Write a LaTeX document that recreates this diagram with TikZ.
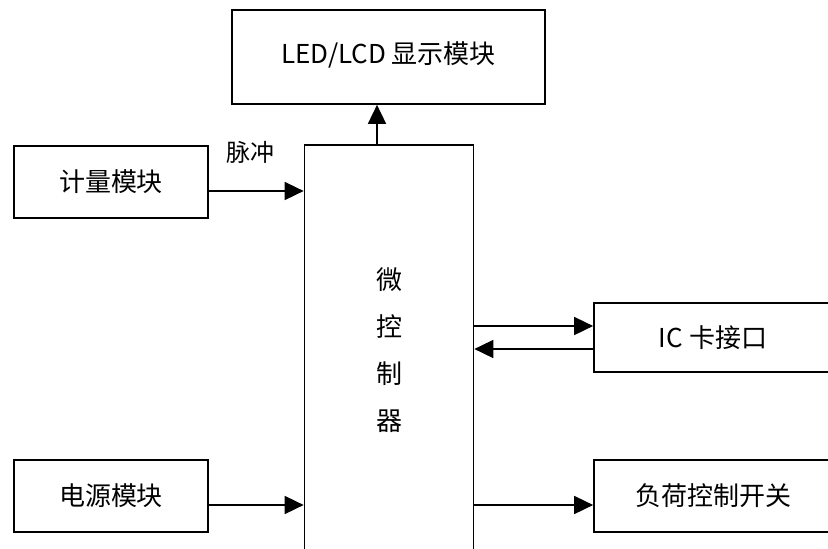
\documentclass[tikz,border=0pt]{standalone}
\usepackage{fontspec}
\newfontfamily\cjk{Noto Sans CJK SC}
\usetikzlibrary{arrows.meta}
\begin{document}
\begin{tikzpicture}[x=1pt,y=-1pt,
  box/.style={draw,line width=1.7pt,inner sep=0pt,font=\cjk\fontsize{26}{31}\selectfont},
  arr/.style={line width=1.7pt,-{Triangle[length=19pt,width=18pt]}}]
\useasboundingbox (0,0) rectangle (828,549);
\clip (0,0) rectangle (828,549);
\fill[white] (0,0) rectangle (828,549);
\node[box,minimum width=313pt,minimum height=94pt] (led) at (388.5,57) {\raisebox{9pt}{LED/LCD 显示模块}};
\node[box,minimum width=194pt,minimum height=72pt] (meter) at (111,182) {计量模块};
\node[box,minimum width=169pt,minimum height=410pt,align=center,font=\cjk\fontsize{26}{47}\selectfont] (mcu) at (389,350) {微\\控\\制\\器};
\node[box,minimum width=238pt,minimum height=69pt] (ic) at (713,337.5) {IC 卡接口};
\node[box,minimum width=194pt,minimum height=72pt] (power) at (111,496) {电源模块};
\node[box,minimum width=238pt,minimum height=72pt] (load) at (713,496) {负荷控制开关};
\node[font=\cjk\fontsize{24}{28}\selectfont,inner sep=0pt] (pulse) at (250,152) {脉冲};
\draw[arr] ([xshift=-12pt]mcu.north) -- ([xshift=-12pt]mcu.north |- led.south);
\draw[arr] ([yshift=-9pt]meter.east) -- ([yshift=-9pt]meter.east -| mcu.west);
\draw[arr] ([yshift=-9pt]power.east) -- ([yshift=-9pt]power.east -| mcu.west);
\draw[arr] ([yshift=-9pt]load.west -| mcu.east) -- ([yshift=-9pt]load.west);
\draw[arr] ([yshift=11.5pt]ic.west -| mcu.east) -- ([yshift=11.5pt]ic.west);
\draw[arr] ([yshift=-11.5pt]ic.west) -- ([yshift=-11.5pt]ic.west -| mcu.east);
\end{tikzpicture}
\end{document}
